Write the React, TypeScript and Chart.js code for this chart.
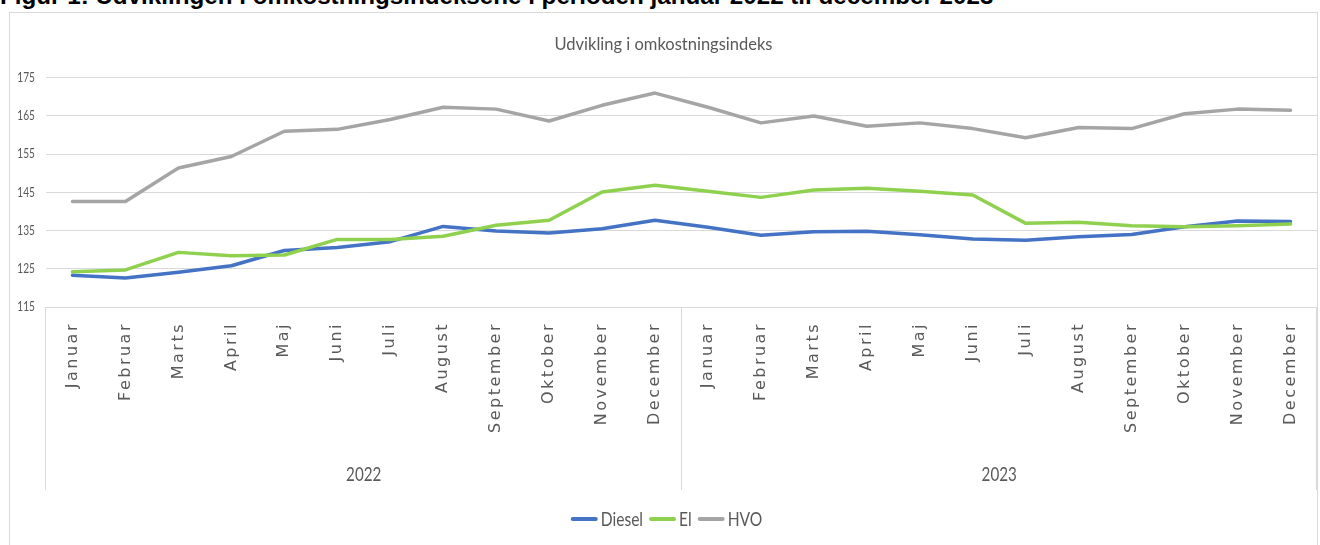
import React, { useEffect, useRef } from "react";
import { Chart, registerables } from "chart.js";

Chart.register(...registerables);

const pageTitle = "Figur 1: Udviklingen i omkostningsindeksene i perioden januar 2022 til december 2023";
const chartTitle = "Udvikling i omkostningsindeks";
const months = ["Januar", "Februar", "Marts", "April", "Maj", "Juni", "Juli", "August", "September", "Oktober", "November", "December"];
const years = ["2022", "2023"];
const yTicks = [115, 125, 135, 145, 155, 165, 175];

const diesel = [123.3, 122.6, 124.1, 125.8, 129.8, 130.6, 132.1, 136.1, 134.9, 134.4, 135.5, 137.7, 135.9, 133.8, 134.7, 134.8, 133.9, 132.8, 132.5, 133.4, 134.0, 136.0, 137.5, 137.4];
const el = [124.2, 124.7, 129.3, 128.4, 128.6, 132.7, 132.7, 133.5, 136.4, 137.7, 145.1, 146.9, 145.3, 143.7, 145.6, 146.1, 145.3, 144.3, 136.9, 137.2, 136.3, 136.0, 136.3, 136.7];
const hvo = [142.6, 142.6, 151.4, 154.4, 161.0, 161.5, 164.1, 167.3, 166.8, 163.7, 167.8, 171.0, 167.3, 163.2, 165.0, 162.3, 163.2, 161.7, 159.3, 162.0, 161.7, 165.6, 166.8, 166.5];

const seriesNames = ["Diesel", "El", "HVO"];
const seriesColors = ["#4472C4", "#8FD14F", "#A5A5A5"];

const SANS = 'Lato, "DejaVu Sans Condensed", sans-serif';
const TEXT = "#595959";
const GRID = "#d9d9d9";

const labels = years.flatMap(() => months);

function narrowText(ctx: CanvasRenderingContext2D, text: string, x: number, y: number, size: number, factor: number, align: CanvasTextAlign) {
  ctx.save();
  ctx.font = `${size}px ${SANS}`;
  ctx.textAlign = align;
  ctx.textBaseline = "middle";
  ctx.translate(x, y);
  ctx.scale(factor, 1);
  ctx.fillText(text, 0, 0);
  ctx.restore();
}

const decorPlugin = {
  id: "decor",
  afterDraw(chart: any) {
    const ctx: CanvasRenderingContext2D = chart.ctx;
    const xs = chart.scales.x;
    const ys = chart.scales.y;
    const area = chart.chartArea;
    const step = xs.getPixelForValue(1) - xs.getPixelForValue(0);
    ctx.save();
    ctx.fillStyle = TEXT;

    // y tick labels
    yTicks.forEach((v) => {
      narrowText(ctx, String(v), area.left - 11, ys.getPixelForValue(v), 13, 0.78, "right");
    });

    // month labels
    ctx.font = '16px "DejaVu Sans", Verdana, sans-serif';
    (ctx as any).letterSpacing = "2.5px";
    ctx.textAlign = "right";
    ctx.textBaseline = "middle";
    labels.forEach((lab, i) => {
      const px = xs.getPixelForValue(i);
      ctx.save();
      ctx.translate(px, area.bottom + 15);
      ctx.rotate(-Math.PI / 2);
      ctx.fillText(lab, 0, 0);
      ctx.restore();
    });
    (ctx as any).letterSpacing = "0px";

    // separators
    ctx.strokeStyle = GRID;
    ctx.lineWidth = 1;
    for (let g = 0; g <= years.length; g++) {
      const idx = g * months.length;
      const px = Math.round(xs.getPixelForValue(Math.min(idx, labels.length - 1)) + (idx >= labels.length ? step / 2 : -step / 2)) - 0.5;
      ctx.beginPath();
      ctx.moveTo(px, area.bottom);
      ctx.lineTo(px, xs.bottom);
      ctx.stroke();
    }

    // year labels
    years.forEach((yr, g) => {
      const a = xs.getPixelForValue(g * months.length);
      const b = xs.getPixelForValue(g * months.length + months.length - 1);
      narrowText(ctx, yr, (a + b) / 2, xs.bottom - 15, 19, 0.8, "center");
    });

    // legend
    const size = 19;
    const factor = 0.82;
    ctx.font = `${size}px ${SANS}`;
    const mark = 27;
    const gapText = 3;
    const gapItem = 6;
    const widths = chart.data.datasets.map((d: any) => ctx.measureText(d.label).width * factor);
    const total = widths.reduce((s: number, w: number) => s + mark + gapText + w, 0) + gapItem * (widths.length - 1);
    let cx = chart.width / 2 - total / 2 + 3;
    const ly = xs.bottom + 29;
    chart.data.datasets.forEach((d: any, i: number) => {
      ctx.strokeStyle = d.borderColor;
      ctx.lineWidth = 4;
      ctx.lineCap = "round";
      ctx.beginPath();
      ctx.moveTo(cx + 2, ly);
      ctx.lineTo(cx + mark - 2, ly);
      ctx.stroke();
      cx += mark + gapText;
      ctx.fillStyle = TEXT;
      narrowText(ctx, d.label, cx, ly + 1, size, factor, "left");
      cx += widths[i] + gapItem;
    });
    ctx.restore();
  },
};

export default function App() {
  const ref = useRef<HTMLCanvasElement | null>(null);

  useEffect(() => {
    document.body.style.margin = "0";
    const canvas = ref.current;
    if (!canvas) return;
    const series = [diesel, el, hvo];
    const chart = new Chart(canvas, {
      type: "line",
      data: {
        labels,
        datasets: series.map((data, i) => ({
          label: seriesNames[i],
          data,
          borderColor: seriesColors[i],
          backgroundColor: seriesColors[i],
          order: 3 - i,
        })),
      },
      options: {
        animation: false,
        responsive: false,
        maintainAspectRatio: false,
        devicePixelRatio: 1,
        layout: { padding: { left: 0, right: 0, top: 0, bottom: 55 } },
        elements: {
          point: { radius: 0, hoverRadius: 0 },
          line: { borderWidth: 3.5, tension: 0, borderJoinStyle: "round", borderCapStyle: "round" },
        },
        plugins: {
          legend: { display: false },
          tooltip: { enabled: false },
          title: {
            display: true,
            text: chartTitle,
            color: TEXT,
            font: { family: SANS, size: 16.5, weight: "normal", lineHeight: 1.2 },
            padding: { top: 22, bottom: 23 },
          },
        },
        scales: {
          x: {
            type: "category",
            offset: true,
            grid: { display: false, drawTicks: false },
            border: { display: false },
            ticks: { display: false },
            afterFit: (s: any) => {
              s.height = 183;
            },
          },
          y: {
            min: 115,
            max: 175,
            afterBuildTicks: (s: any) => {
              s.ticks = yTicks.map((v) => ({ value: v }));
            },
            grid: { color: GRID, lineWidth: 1, drawTicks: false },
            border: { display: false },
            ticks: { display: false },
            afterFit: (s: any) => {
              s.width = 36;
            },
          },
        },
      } as any,
      plugins: [decorPlugin],
    });
    return () => chart.destroy();
  }, []);

  return (
    <div style={{ position: "fixed", left: 0, top: 0, width: 1320, height: 545, overflow: "hidden", background: "#fff" }}>
      <div
        style={{
          position: "absolute",
          left: 0,
          top: -16,
          whiteSpace: "nowrap",
          fontFamily: '"Liberation Sans", Arial, sans-serif',
          fontWeight: "bold",
          fontSize: 24.2,
          lineHeight: "24px",
          color: "#000",
        }}
      >
        {pageTitle}
      </div>
      <div
        style={{
          position: "absolute",
          left: 9,
          top: 12,
          width: 1309,
          height: 560,
          border: `1px solid ${GRID}`,
          boxSizing: "border-box",
        }}
      />
      <canvas ref={ref} width={1307} height={532} style={{ position: "absolute", left: 10, top: 13, width: 1307, height: 532 }} />
    </div>
  );
}
